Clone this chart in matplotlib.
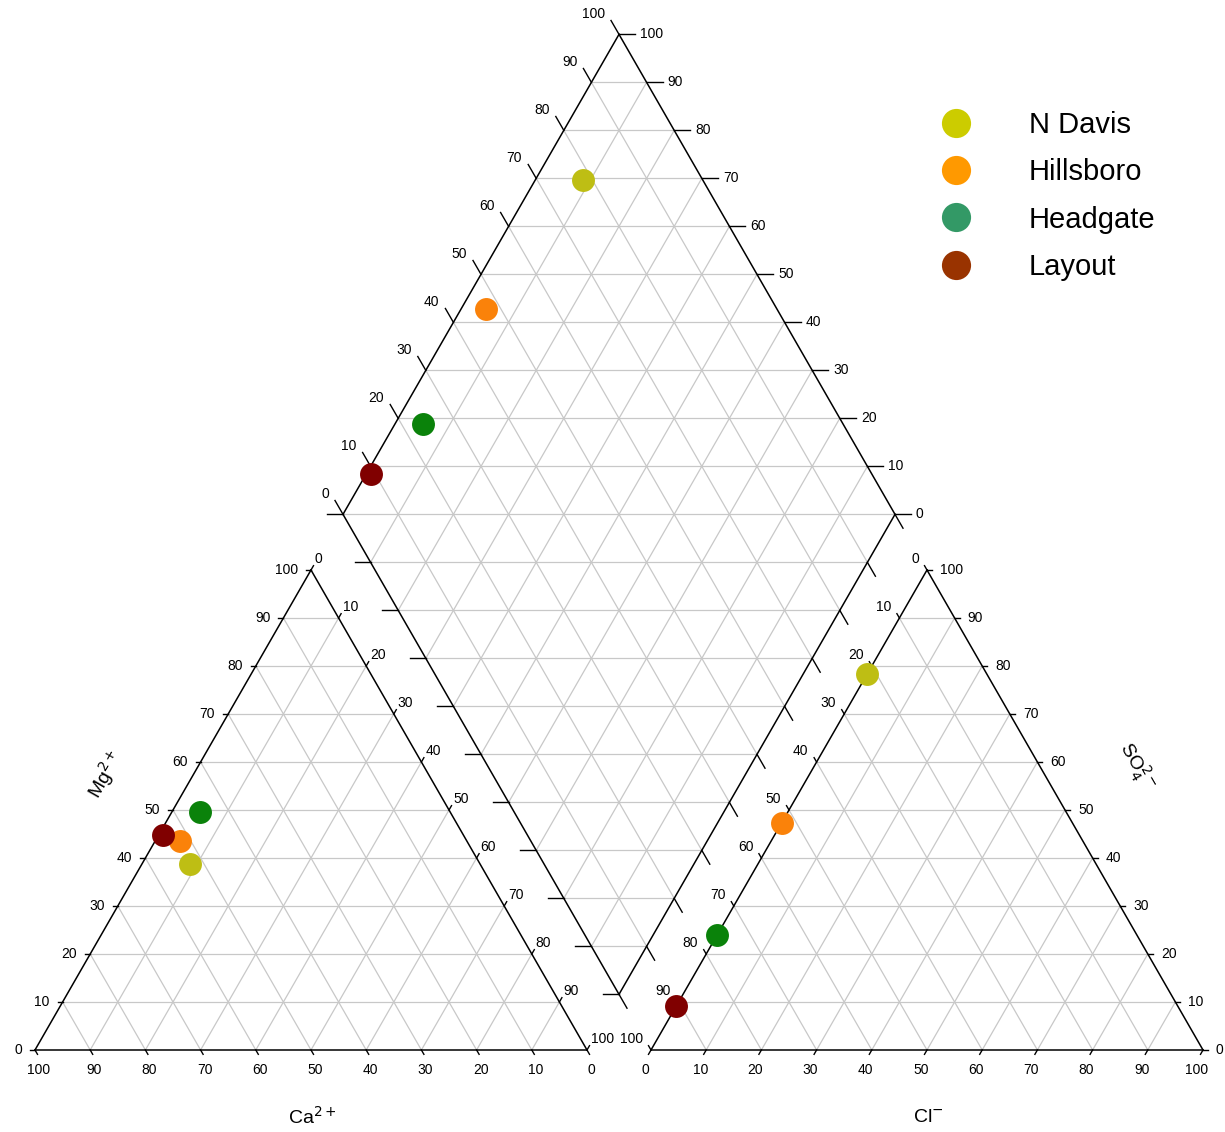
"""
Piper diagram of major-ion chemistry for four sampling sites.
Saves to out.png
"""
import numpy as np
import matplotlib.pyplot as plt
from matplotlib.lines import Line2D

plt.rcParams["font.family"] = ["Liberation Sans", "DejaVu Sans"]

SITES = ["N Davis", "Hillsboro", "Headgate", "Layout"]
# cations, percent of meq
MG = [38.7, 43.5, 49.6, 44.8]
NA_K = [8.7, 4.5, 5.1, 0.8]
# anions, percent of meq
SO4 = [78.4, 47.3, 23.9, 9.2]
CL = [0.0, 0.0, 0.0, 0.0]

POINT_COLORS = ["#bebe14", "#fa820a", "#0a820a", "#800000"]
LEGEND_COLORS = ["#cccc00", "#ff9900", "#339966", "#993300"]

TICKS = np.arange(0, 101, 10)

S = np.sqrt(3) / 2
GAP = 64 / 5.52
X0 = 100 + GAP                      # left corner of the anion triangle
L = np.array([50 + GAP / 2, 100 * S + GAP * S])   # left vertex of diamond
U1 = np.array([0.5, S])             # up-right
U2 = np.array([0.5, -S])            # down-right

GRID = dict(color="#c8c8c8", lw=0.9, zorder=1)
EDGE = dict(color="black", lw=1.1, zorder=2)
TICK = dict(color="black", lw=1.0, zorder=2)
FS = 10

W, H = 1225, 1132
fig = plt.figure(figsize=(W / 100, H / 100), dpi=100)
ax = fig.add_axes([0, 0, 1, 1])
sx, sy = 5.52, 480 / (100 * S)
ax.set_xlim(-35 / sx, (W - 35) / sx)
ax.set_ylim(-(H - 1050) / sy, 1050 / sy)
ax.axis("off")

tl_tri = 5 / sx      # short ticks on the triangles
tl_dia = 16 / sx     # longer ticks on the diamond


def seg(p, q, **kw):
    ax.plot([p[0], q[0]], [p[1], q[1]], **kw)


def tick(p, d, length):
    d = np.array(d) / np.hypot(*d)
    d = d * np.array([1, sx / sy])
    seg(p, p + d * length, **TICK)


def label(p, txt, dx, dy, ha):
    ax.annotate(txt, xy=p, xytext=(dx, dy), textcoords="offset pixels",
                ha=ha, va="center", fontsize=FS)


def triangle(x0):
    a, b, c = np.array([x0, 0]), np.array([x0 + 100, 0]), np.array([x0 + 50, 100 * S])
    for k in TICKS[1:-1]:
        seg((x0 + 0.5 * k, k * S), (x0 + 100 - 0.5 * k, k * S), **GRID)
        seg((x0 + k, 0), (x0 + k + 0.5 * (100 - k), (100 - k) * S), **GRID)
        seg((x0 + k, 0), (x0 + 0.5 * k, k * S), **GRID)
    for p, q in ((a, b), (b, c), (c, a)):
        seg(p, q, **EDGE)


# --- cation triangle ---
triangle(0)
for v in TICKS:
    p = np.array([100 - v, 0.0])                    # Ca2+
    tick(p, (0.5, -S), tl_tri)
    label(p, str(v), 4, -20, "center")
    p = np.array([0.5 * v, v * S])                  # Mg2+
    tick(p, (-1, 0), tl_tri)
    label(p, str(v), -13, 0, "right")
    p = np.array([50 + 0.5 * v, (100 - v) * S])     # Na+ + K+
    tick(p, (0.5, S), tl_tri)
    label(p, str(v), 4, 11, "left")

# --- anion triangle ---
triangle(X0)
for v in TICKS:
    p = np.array([X0 + v, 0.0])                     # Cl-
    tick(p, (-0.5, -S), tl_tri)
    label(p, str(v), -6, -20, "center")
    p = np.array([X0 + 100 - 0.5 * v, v * S])       # SO4 2-
    tick(p, (1, 0), tl_tri)
    label(p, str(v), 13, 0, "left")
    p = np.array([X0 + 50 - 0.5 * v, (100 - v) * S])  # HCO3- + CO3 2-
    tick(p, (-0.5, S), tl_tri)
    label(p, str(v), -8, 11, "right")

# --- diamond ---
for k in TICKS[1:-1]:
    seg(L + k * U1, L + k * U1 + 100 * U2, **GRID)
    seg(L + k * U2, L + k * U2 + 100 * U1, **GRID)
for k in np.arange(-90, 91, 10):
    y = L[1] + k * S
    seg((L[0] + 0.5 * abs(k), y), (L[0] + 100 - 0.5 * abs(k), y), **GRID)
top, right, bottom = L + 100 * U1, L + 100 * U1 + 100 * U2, L + 100 * U2
for p, q in ((L, top), (top, right), (right, bottom), (bottom, L)):
    seg(p, q, **EDGE)
for v in TICKS:
    p = L + v * U1                                  # SO4 + Cl
    tick(p, (-0.5, S), tl_dia)
    label(p, str(v), -14, 20, "right")
    p = top + (100 - v) * U2                        # Ca + Mg
    tick(p, (1, 0), tl_dia)
    label(p, str(v), 21, 0, "left")
    tick(L + v * U2, (-1, 0), tl_dia)
    tick(bottom + v * U1, (0.5, -S), tl_dia)

# --- samples ---
mg, na = np.array(MG), np.array(NA_K)
so4, cl = np.array(SO4), np.array(CL)
cat_x, cat_y = na + 0.5 * mg, mg * S
an_x, an_y = X0 + cl + 0.5 * so4, so4 * S
dia = L[:, None] + np.outer(U1, so4 + cl) + np.outer(U2, na)
for i, name in enumerate(SITES):
    for x, y in ((cat_x[i], cat_y[i]), (an_x[i], an_y[i]), (dia[0, i], dia[1, i])):
        ax.plot(x, y, "o", ms=16.5, color=POINT_COLORS[i], mec="none", zorder=5)

# --- axis titles ---
fig.text(312 / W, 1 - 1117 / H, "Ca$^{2+}$", fontsize=14, ha="center", va="center")
fig.text(928 / W, 1 - 1117 / H, "Cl$^{-}$", fontsize=14, ha="center", va="center")
fig.text(105 / W, 1 - 775 / H, "Mg$^{2+}$", fontsize=14, rotation=60,
         ha="center", va="center")
fig.text(1137 / W, 1 - 767 / H, "SO$_4^{2-}$", fontsize=14, rotation=-60,
         ha="center", va="center")

# --- legend ---
handles = [Line2D([], [], ls="none", marker="o", ms=21, color=c, mec="none")
           for c in LEGEND_COLORS]
ax.legend(handles, SITES, loc="upper left", bbox_to_anchor=(927 / W, 1 - 111 / H),
          bbox_transform=fig.transFigure, frameon=False, fontsize=21,
          handlelength=2.0, handletextpad=1.5, labelspacing=0.66,
          borderpad=0, borderaxespad=0)

fig.savefig("out.png", dpi=100)
